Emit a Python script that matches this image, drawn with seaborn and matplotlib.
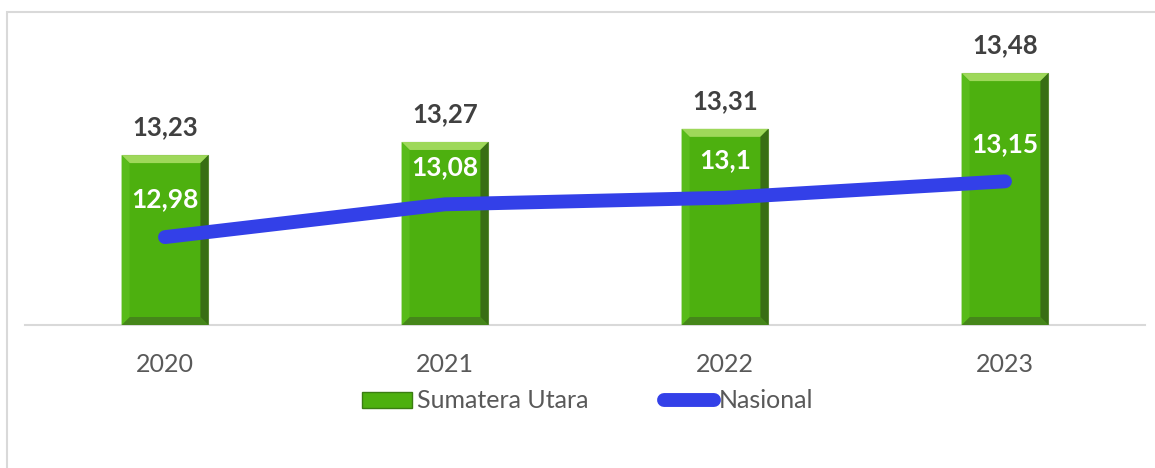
import matplotlib
matplotlib.use("Agg")
import matplotlib.pyplot as plt
import seaborn as sns
import pandas as pd
from matplotlib.patches import Polygon, Rectangle
from matplotlib.lines import Line2D

# data
years = ["2020", "2021", "2022", "2023"]
sumut = [13.23, 13.27, 13.31, 13.48]
nasional = [12.98, 13.08, 13.10, 13.15]
series_names = ["Sumatera Utara", "Nasional"]

df = pd.DataFrame({"Tahun": years, "Sumut": sumut, "Nasional": nasional})

sns.set_theme(style="white")
plt.rcParams["font.family"] = ["Lato", "DejaVu Sans"]

green = "#4db00f"
blue = "#3340e8"
ymin = 12.712

fig = plt.figure(figsize=(11.55, 4.68), dpi=100)
# light grey chart frame (left/top only visible)
fig.patches.append(Rectangle((7 / 1155, -0.1), 1.2, (468 - 12) / 468 + 0.1,
                             transform=fig.transFigure, fill=False,
                             edgecolor="#d9d9d9", linewidth=1.5))
ax = fig.add_axes([25 / 1155, (468 - 325) / 468, 1120 / 1155, (325 - 20) / 468])

sns.barplot(data=df, x="Tahun", y="Sumut", color=green, width=0.31,
            saturation=1, ax=ax, zorder=2)

# bevel effect on each bar
bx = 8 / 280
by = 8 / 328
for p in ax.patches[:]:
    x0, y0 = p.get_x(), ymin
    x1 = x0 + p.get_width()
    y1 = p.get_height()
    p.set_y(y0)
    p.set_height(y1 - y0)
    p.set_edgecolor("#6e9a4a")
    p.set_linewidth(0.8)
    faces = [
        ([(x0, y1), (x1, y1), (x1 - bx, y1 - by), (x0 + bx, y1 - by)], "#9ed85a"),
        ([(x0, y0), (x1, y0), (x1 - bx, y0 + by), (x0 + bx, y0 + by)], "#45861a"),
        ([(x0, y0), (x0, y1), (x0 + bx, y1 - by), (x0 + bx, y0 + by)], "#58bb1a"),
        ([(x1, y0), (x1, y1), (x1 - bx, y1 - by), (x1 - bx, y0 + by)], "#386e14"),
    ]
    for pts, c in faces:
        ax.add_patch(Polygon(pts, closed=True, facecolor=c, edgecolor="none", zorder=3))

sns.lineplot(x=range(len(years)), y=nasional, color=blue, linewidth=10,
             solid_capstyle="round", ax=ax, zorder=4)

for i, v in enumerate(sumut):
    ax.annotate(f"{v:g}".replace(".", ","), (i, v), xytext=(0, 20),
                textcoords="offset points", ha="center", va="center",
                fontsize=18.5, fontweight="bold", color="#404040")
for i, v in enumerate(nasional):
    ax.annotate(f"{v:g}".replace(".", ","), (i, v), xytext=(0, 27),
                textcoords="offset points", ha="center", va="center",
                fontsize=19, fontweight="bold", color="white", zorder=5)

ax.set_xlim(-0.5, len(years) - 0.5)
ax.set_ylim(ymin, ymin + 305 / 328)
ax.set_xlabel("")
ax.set_ylabel("")
ax.set_yticks([])
ax.tick_params(axis="x", length=0, labelsize=18, labelcolor="#595959", pad=20)
for s in ["top", "right", "left"]:
    ax.spines[s].set_visible(False)
ax.spines["bottom"].set_color("#d9d9d9")
ax.spines["bottom"].set_linewidth(1.5)
ax.spines["bottom"].set_zorder(1)

handles = [
    Rectangle((0, 0), 1, 1, facecolor=green, edgecolor="#3a7d12"),
    Line2D([0], [0], color=blue, linewidth=10, solid_capstyle="round"),
]
fig.legend(handles, series_names, loc="center", bbox_to_anchor=(588 / 1155, 1 - 401 / 468),
           ncol=2, frameon=False, fontsize=18, labelcolor="#595959",
           handlelength=2.0, handleheight=0.6, handletextpad=0.2, columnspacing=3.0)

fig.savefig("out.png", dpi=100)
